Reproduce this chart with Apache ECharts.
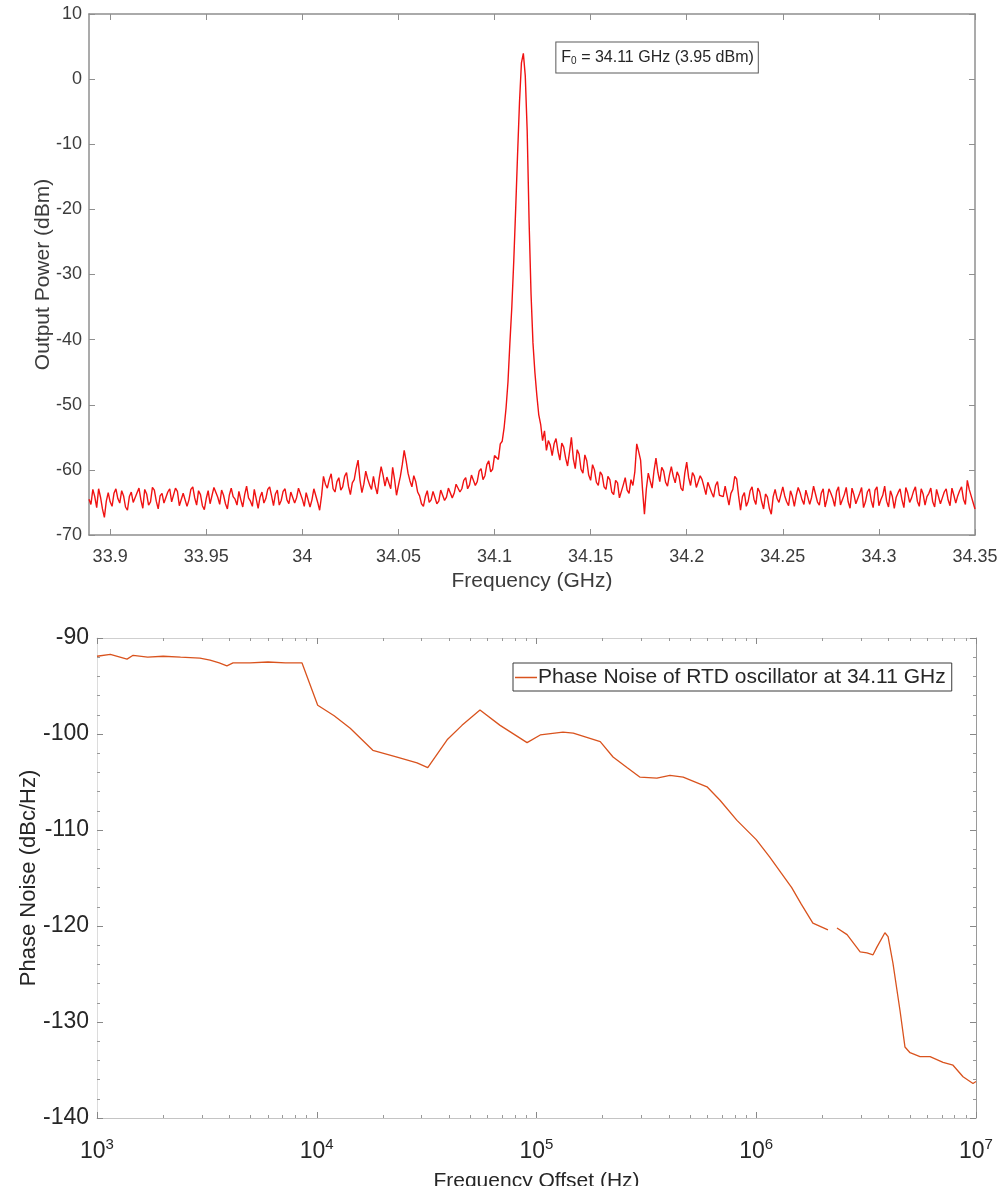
<!DOCTYPE html>
<html>
<head>
<meta charset="utf-8">
<script src="https://cdn.jsdelivr.net/npm/echarts@6/dist/echarts.min.js"></script>
<style>
html,body{margin:0;padding:0;background:#fff;}
#chart{width:1005px;height:1186px;}
</style>
</head>
<body>
<div id="chart"></div>
<script>
// ---------- Spectrum (top) ----------
// analyser sweep: starts at 33.889 GHz, one sample every 0.001 GHz
const sweepStartGHz = 33.889, sweepStepGHz = 0.001;
// lower skirt: 33.889 .. 34.101 GHz
const powerLower = [
-64.5,-65.3,-63.0,-64.1,-65.8,-62.9,-64.2,-66.0,-67.3,-64.8,
-63.5,-64.9,-65.6,-63.6,-62.9,-64.4,-65.1,-63.2,-64.0,-65.7,
-66.2,-64.1,-63.4,-65.0,-64.8,-63.5,-62.8,-64.6,-65.9,-63.0,
-63.7,-65.4,-64.9,-62.7,-63.1,-64.8,-66.0,-64.0,-63.6,-65.1,
-65.2,-63.4,-62.9,-64.9,-64.7,-62.8,-63.3,-65.5,-65.8,-63.6,
-63.9,-65.6,-64.6,-63.0,-62.6,-64.3,-65.4,-63.2,-63.8,-65.5,
-66.1,-64.4,-63.2,-65.2,-64.9,-62.7,-62.4,-64.2,-65.3,-63.1,
-63.9,-65.2,-66.0,-63.9,-62.8,-64.1,-64.5,-65.4,-63.3,-64.6,
-65.7,-63.8,-62.5,-64.3,-64.8,-65.6,-63.0,-62.7,-65.9,-64.2,
-63.4,-65.1,-64.4,-63.0,-62.6,-64.0,-65.5,-63.7,-63.1,-65.4,
-64.7,-63.3,-62.9,-64.6,-65.2,-63.4,-63.6,-65.1,-64.3,-62.8,
-63.0,-64.5,-65.6,-63.5,-63.8,-65.7,-64.6,-62.9,-63.2,-65.0,
-66.2,-64.0,-61.0,-62.2,-62.8,-61.5,-60.6,-62.9,-63.4,-61.8,
-61.2,-63.1,-62.6,-61.0,-60.4,-62.5,-63.8,-62.0,-61.5,-59.8,
-58.5,-61.6,-63.5,-62.2,-60.2,-61.4,-62.3,-63.0,-61.0,-62.6,
-63.7,-61.3,-59.5,-60.8,-62.5,-61.1,-60.8,-62.9,-59.6,-61.5,
-63.9,-62.4,-61.0,-59.2,-57.0,-58.6,-60.5,-61.7,-62.6,-60.9,
-61.8,-63.4,-64.0,-65.2,-65.6,-64.1,-63.2,-65.0,-64.6,-63.3,
-63.5,-65.2,-64.8,-63.1,-63.4,-64.7,-64.2,-62.8,-62.5,-64.3,
-63.6,-62.2,-62.0,-63.4,-62.9,-61.6,-61.2,-62.9,-62.3,-60.8,
-60.6,-62.4,-61.8,-60.2,-59.8,-61.5,-60.9,-59.2,-58.6,-60.3,
-59.9,-57.8,-57.5
];
// carrier: 34.102 .. 34.128 GHz
const powerCarrier = [
-58.4,-56.0,-55.6,-53.5,-50.5,-46.5,-40.5,-35.0,-28.0,-20.0,
-11.5,-3.5,2.5,3.95,0.5,-8.0,-22.0,-33.0,-40.5,-45.0,
-48.5,-51.5,-53.0,-55.5,-54.0,-57.0,-55.5
];
// upper skirt: 34.129 .. 34.350 GHz
const powerUpper = [
-56.2,-57.8,-56.0,-55.2,-57.1,-58.5,-55.9,-56.5,-58.2,-59.4,
-57.3,-55.0,-58.3,-59.8,-56.9,-57.6,-59.9,-60.5,-57.7,-58.6,
-60.8,-61.6,-59.2,-60.0,-61.9,-62.4,-60.3,-60.8,-62.6,-63.0,
-61.0,-61.5,-63.4,-63.8,-61.6,-62.0,-64.3,-64.0,-62.3,-61.2,
-63.1,-63.6,-61.5,-62.4,-60.3,-56.0,-57.2,-58.5,-63.0,-66.8,
-62.9,-60.5,-61.7,-62.8,-60.1,-58.2,-60.4,-61.8,-59.6,-60.2,
-61.9,-62.5,-60.8,-59.5,-61.0,-62.0,-60.3,-61.0,-62.8,-63.2,
-60.5,-58.8,-61.2,-62.4,-60.4,-61.0,-62.7,-63.0,-60.9,-61.5,
-62.6,-63.8,-61.9,-62.0,-63.5,-64.2,-62.4,-61.8,-63.9,-63.6,
-64.1,-62.5,-64.0,-65.4,-63.6,-63.0,-61.0,-61.4,-64.0,-66.2,
-64.1,-63.5,-65.6,-64.8,-63.2,-62.6,-64.5,-65.3,-62.8,-63.4,
-64.9,-66.0,-63.7,-64.2,-65.9,-66.8,-64.1,-63.0,-64.4,-65.0,
-63.8,-62.6,-64.0,-64.9,-65.5,-63.2,-64.1,-65.6,-63.9,-62.7,
-63.5,-64.6,-65.3,-63.1,-62.8,-65.3,-64.2,-62.5,-63.7,-64.9,
-65.4,-63.6,-62.9,-65.7,-64.5,-62.9,-63.6,-64.4,-65.6,-63.3,
-62.6,-65.4,-64.6,-63.8,-62.7,-64.9,-65.9,-62.8,-63.8,-65.2,
-64.4,-63.6,-62.7,-65.8,-64.9,-63.4,-62.9,-64.7,-65.8,-63.1,
-62.6,-65.5,-64.6,-63.9,-62.5,-64.8,-65.7,-63.2,-64.1,-65.9,
-64.2,-63.5,-62.9,-64.6,-65.8,-62.7,-63.6,-65.0,-64.3,-63.3,
-62.6,-64.8,-65.6,-62.9,-63.7,-65.4,-64.1,-63.6,-62.8,-64.9,
-65.7,-63.0,-62.7,-65.2,-64.3,-63.4,-62.9,-64.6,-65.5,-62.8,
-63.9,-65.1,-64.0,-63.2,-62.6,-64.5,-65.3,-61.6,-63.0,-64.0,
-65.0,-66.0
];
const freqTicks = [33.9,33.95,34,34.05,34.1,34.15,34.2,34.25,34.3,34.35];
const carrierFreqGHz = 34.115, carrierPowerDbm = 3.95;
const carrierLabel = 'F{sub|0} = 34.11 GHz (3.95 dBm)';

// ---------- Phase noise (bottom) ----------
const offsetHz = [
1000,1150,1370,1460,1700,2000,2400,2940,3270,3600,
3900,4160,4970,6000,7200,8570,10100,12000,14200,18000,
23200,28600,32000,39200,45800,55300,68300,90600,104000,132000,
147000,195000,223000,258000,296000,353000,405000,465000,597000,684000,
817000,1000000,1150000,1300000,1450000,1600000,1810000,2120000,null,2330000,
2590000,2970000,3190000,3400000,3540000,3850000,3980000,4190000,4510000,4750000,
5010000,5560000,6180000,7080000,7860000,8730000,9690000,10000000
];
const phaseNoise = [
-91.9,-91.7,-92.2,-91.8,-92.0,-91.9,-92.0,-92.1,-92.3,-92.6,
-92.9,-92.6,-92.6,-92.5,-92.6,-92.6,-97.0,-98.1,-99.4,-101.7,
-102.4,-103.0,-103.5,-100.6,-99.1,-97.5,-99.1,-100.9,-100.1,-99.8,
-99.9,-100.8,-102.4,-103.5,-104.5,-104.6,-104.3,-104.5,-105.5,-106.9,
-109.0,-111.0,-112.8,-114.5,-116.0,-117.7,-119.7,-120.4,null,-120.2,
-120.9,-122.7,-122.8,-123.0,-122.2,-120.7,-121.1,-123.9,-128.8,-132.6,
-133.2,-133.6,-133.6,-134.2,-134.5,-135.7,-136.4,-136.2
];
const pnLegend = 'Phase Noise of RTD oscillator at 34.11 GHz';
const minorDecadeSteps = [2,3,4,5,6,7,8,9];
const decades = [1e3,1e4,1e5,1e6];

// ---------- build ----------
const powerAll = [].concat(powerLower, powerCarrier, powerUpper);
const spectrum = powerAll.map((v,i)=>[+(sweepStartGHz + i*sweepStepGHz).toFixed(4), v]);
const pnData = offsetHz.map((f,i)=> f===null ? [null,null] : [f, phaseNoise[i]]);
const minorLog = [];
decades.forEach(d=>minorDecadeSteps.forEach(m=>minorLog.push(Math.log10(m*d))));

const FONT = 'Liberation Sans, Arial, Helvetica, sans-serif';
const chart = echarts.init(document.getElementById('chart'), null, {renderer:'canvas'});

const topLine = {show:true, onZero:false, lineStyle:{color:'#8f8f8f', width:1.5}};
const botLine = {show:true, onZero:false, lineStyle:{color:'#c4c4c4', width:1}};

const option = {
  animation:false,
  backgroundColor:'#fff',
  textStyle:{fontFamily:FONT},
  grid:[
    {left:89, right:30, top:14, height:521, outerBoundsMode:'none', containLabel:false},
    {left:97, right:29, top:638, height:480, outerBoundsMode:'none', containLabel:false}
  ],
  xAxis:[
    {gridIndex:0, type:'value', min:33.889, max:34.35, position:'bottom',
     axisLine:topLine,
     axisTick:{show:true, inside:true, length:6, customValues:freqTicks, lineStyle:{color:'#8f8f8f'}},
     axisLabel:{show:true, customValues:freqTicks, fontSize:18, color:'#3c3c3c', margin:13, fontFamily:FONT,
       formatter:v=>String(+v.toFixed(2))},
     splitLine:{show:false},
     name:'Frequency (GHz)', nameLocation:'middle', nameGap:36, nameMoveOverlap:false,
     nameTextStyle:{fontSize:21, color:'#3c3c3c', fontFamily:FONT}},
    {gridIndex:0, type:'value', min:33.889, max:34.35, position:'top',
     axisLine:topLine,
     axisTick:{show:true, inside:true, length:6, customValues:freqTicks, lineStyle:{color:'#8f8f8f'}},
     axisLabel:{show:false}, splitLine:{show:false}},
    {gridIndex:1, type:'log', logBase:10, min:1e3, max:1e7, position:'bottom',
     axisLine:botLine,
     axisTick:{show:true, inside:true, length:6, lineStyle:{color:'#888'}},
     axisLabel:{show:true, fontSize:23, color:'#262626', margin:19, fontFamily:FONT,
       formatter:v=>'10{sup|'+Math.round(Math.log10(v))+'}',
       rich:{sup:{fontSize:15, color:'#262626', fontFamily:FONT, padding:[0,0,14,0]}}},
     splitLine:{show:false},
     name:'Frequency Offset (Hz)', nameLocation:'middle', nameGap:53, nameMoveOverlap:false,
     nameTextStyle:{fontSize:21, color:'#262626', fontFamily:FONT}},
    {gridIndex:1, type:'log', logBase:10, min:1e3, max:1e7, position:'top',
     axisLine:{show:true, onZero:false, lineStyle:{color:'#cfcfcf', width:1}},
     axisTick:{show:true, inside:true, length:6, lineStyle:{color:'#888'}},
     axisLabel:{show:false}, splitLine:{show:false}},
    {gridIndex:1, type:'value', min:3, max:7, position:'bottom',
     axisLine:{show:false, onZero:false},
     axisTick:{show:true, inside:true, length:3, customValues:minorLog, lineStyle:{color:'#999'}},
     axisLabel:{show:false}, splitLine:{show:false}},
    {gridIndex:1, type:'value', min:3, max:7, position:'top',
     axisLine:{show:false, onZero:false},
     axisTick:{show:true, inside:true, length:3, customValues:minorLog, lineStyle:{color:'#999'}},
     axisLabel:{show:false}, splitLine:{show:false}}
  ],
  yAxis:[
    {gridIndex:0, type:'value', min:-70, max:10, interval:10, position:'left',
     axisLine:topLine,
     axisTick:{show:true, inside:true, length:6, lineStyle:{color:'#8f8f8f'}},
     axisLabel:{fontSize:18, color:'#3c3c3c', margin:7, fontFamily:FONT},
     splitLine:{show:false},
     name:'Output Power (dBm)', nameLocation:'middle', nameGap:35, nameRotate:90, nameMoveOverlap:false,
     nameTextStyle:{fontSize:21, color:'#3c3c3c', fontFamily:FONT}},
    {gridIndex:0, type:'value', min:-70, max:10, interval:10, position:'right',
     axisLine:topLine,
     axisTick:{show:true, inside:true, length:6, lineStyle:{color:'#8f8f8f'}},
     axisLabel:{show:false}, splitLine:{show:false}},
    {gridIndex:1, type:'value', min:-140, max:-90, interval:10, position:'left',
     axisLine:{show:true, onZero:false, lineStyle:{color:'#dcdcdc', width:1}},
     axisTick:{show:true, inside:true, length:6, lineStyle:{color:'#888'}},
     minorTick:{show:true, splitNumber:5, length:3, lineStyle:{color:'#999'}},
     axisLabel:{fontSize:23, color:'#262626', margin:8, fontFamily:FONT},
     splitLine:{show:false},
     name:'Phase Noise (dBc/Hz)', nameLocation:'middle', nameGap:57, nameRotate:90, nameMoveOverlap:false,
     nameTextStyle:{fontSize:22, color:'#262626', fontFamily:FONT}},
    {gridIndex:1, type:'value', min:-140, max:-90, interval:10, position:'right',
     axisLine:{show:true, onZero:false, lineStyle:{color:'#9a9a9a', width:1}},
     axisTick:{show:true, inside:true, length:6, lineStyle:{color:'#888'}},
     minorTick:{show:true, splitNumber:5, length:3, lineStyle:{color:'#999'}},
     axisLabel:{show:false}, splitLine:{show:false}}
  ],
  legend:{
    data:[{name:pnLegend, icon:'rect'}],
    left:513, top:663,
    itemWidth:22, itemHeight:1.5, itemGap:0,
    padding:[4,6,3,2],
    borderColor:'#3a3a3a', borderWidth:1, backgroundColor:'#fff',
    textStyle:{fontSize:21, color:'#262626', fontFamily:FONT, padding:[0,0,0,-4]}
  },
  series:[
    {type:'line', name:'Spectrum', xAxisIndex:0, yAxisIndex:0, data:spectrum,
     showSymbol:false, symbol:'none', lineStyle:{color:'#f01212', width:1.4}, silent:true},
    {type:'line', name:pnLegend, xAxisIndex:2, yAxisIndex:2, data:pnData,
     showSymbol:false, symbol:'none', connectNulls:false,
     lineStyle:{color:'#d9531e', width:1.3}, itemStyle:{color:'#d9531e'}}
  ]
};
chart.setOption(option);

// annotation box anchored to the carrier peak
const pk = chart.convertToPixel({xAxisIndex:0, yAxisIndex:0}, [carrierFreqGHz, carrierPowerDbm]);
chart.setOption({
  graphic:[{
    type:'text', x: pk[0] + 33, y: pk[1] - 11, z:100,
    style:{
      text: carrierLabel,
      fontSize:16, fontFamily:FONT, fill:'#262626',
      lineHeight:18,
      backgroundColor:'#fff', borderColor:'#5a5a5a', borderWidth:1,
      padding:[6,4,6,5],
      rich:{sub:{fontSize:10, fontFamily:FONT, fill:'#262626', lineHeight:18, verticalAlign:'bottom', padding:[6,0,0,0]}}
    }
  }]
});
</script>
</body>
</html>
